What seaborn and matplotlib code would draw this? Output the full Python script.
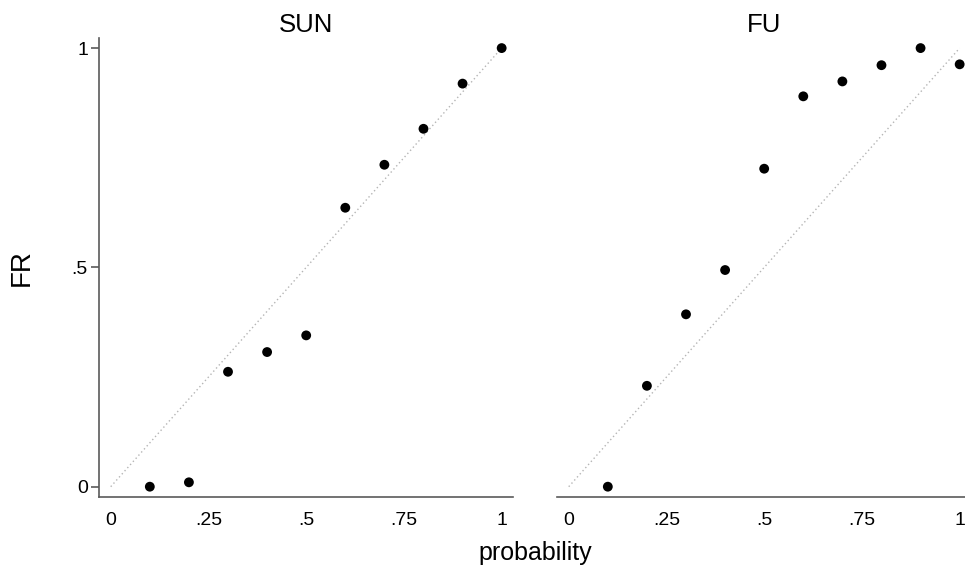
import matplotlib
matplotlib.use("Agg")
import matplotlib.pyplot as plt
import seaborn as sns
import pandas as pd

probability = [0.1, 0.2, 0.3, 0.4, 0.5, 0.6, 0.7, 0.8, 0.9, 1.0]
fr_sun = [0.0, 0.010, 0.262, 0.307, 0.345, 0.636, 0.734, 0.816, 0.919, 1.0]
fr_fu = [0.0, 0.230, 0.393, 0.494, 0.725, 0.890, 0.924, 0.961, 1.0, 0.963]
panels = ["SUN", "FU"]
xticks = [0, 0.25, 0.5, 0.75, 1]
xticklabels = ["0", ".25", ".5", ".75", "1"]
yticks = [0, 0.5, 1]
yticklabels = ["0", ".5", "1"]
ref_line = [0, 1]

df = pd.concat([
    pd.DataFrame({"probability": probability, "FR": fr_sun, "panel": "SUN"}),
    pd.DataFrame({"probability": probability, "FR": fr_fu, "panel": "FU"}),
])

sns.set_theme(style="white")
plt.rcParams["font.family"] = ["Liberation Sans", "DejaVu Sans"]
plt.rcParams["text.color"] = "black"
plt.rcParams["xtick.color"] = "black"
plt.rcParams["ytick.color"] = "black"
plt.rcParams["axes.labelcolor"] = "black"

fig = plt.figure(figsize=(9.65, 5.71), dpi=100)
left = [99 / 965, (571 - 497) / 571, 414 / 965, (497 - 38) / 571]
right = [557 / 965, (571 - 497) / 571, 414 / 965, (497 - 38) / 571]
axes = [fig.add_axes(left), fig.add_axes(right)]

spine_col = "#5a5a5a"
for i, (ax, name) in enumerate(zip(axes, panels)):
    sub = df[df["panel"] == name]
    ax.plot(ref_line, ref_line, color="#b5b5b5", linestyle=(0, (1, 2)), linewidth=1, zorder=1)
    sns.scatterplot(data=sub, x="probability", y="FR", ax=ax, color="black",
                    s=50, edgecolor="none", zorder=3, legend=False)
    ax.set_xlim(-0.03, 1.029)
    ax.set_ylim(-0.0235, 1.023)
    ax.set_xticks(xticks)
    ax.set_xticklabels(xticklabels, fontsize=14, color="black")
    ax.set_xlabel("")
    ax.set_ylabel("")
    ax.set_title(name, fontsize=18.5, pad=4, color="black")
    for s in ["top", "right"]:
        ax.spines[s].set_visible(False)
    ax.spines["bottom"].set_color(spine_col)
    ax.spines["bottom"].set_linewidth(1.2)
    ax.tick_params(axis="x", direction="out", length=7, width=1.2, color=spine_col, pad=4)
    if i == 0:
        ax.spines["left"].set_color(spine_col)
        ax.spines["left"].set_linewidth(1.2)
        ax.set_yticks(yticks)
        ax.set_yticklabels(yticklabels, fontsize=14, color="black")
        ax.tick_params(axis="y", direction="out", length=6, width=1.2, color=spine_col, left=True, pad=2)
    else:
        ax.spines["left"].set_visible(False)
        ax.set_yticks([])

fig.text((99 + 971) / 2 / 965, 1 - 553 / 571, "probability", ha="center", va="center", fontsize=18, color="black")
fig.text(22 / 965, 1 - 268 / 571, "FR", ha="center", va="center", rotation=90, fontsize=20, color="black")

fig.savefig("out.png", dpi=100, facecolor="white")
